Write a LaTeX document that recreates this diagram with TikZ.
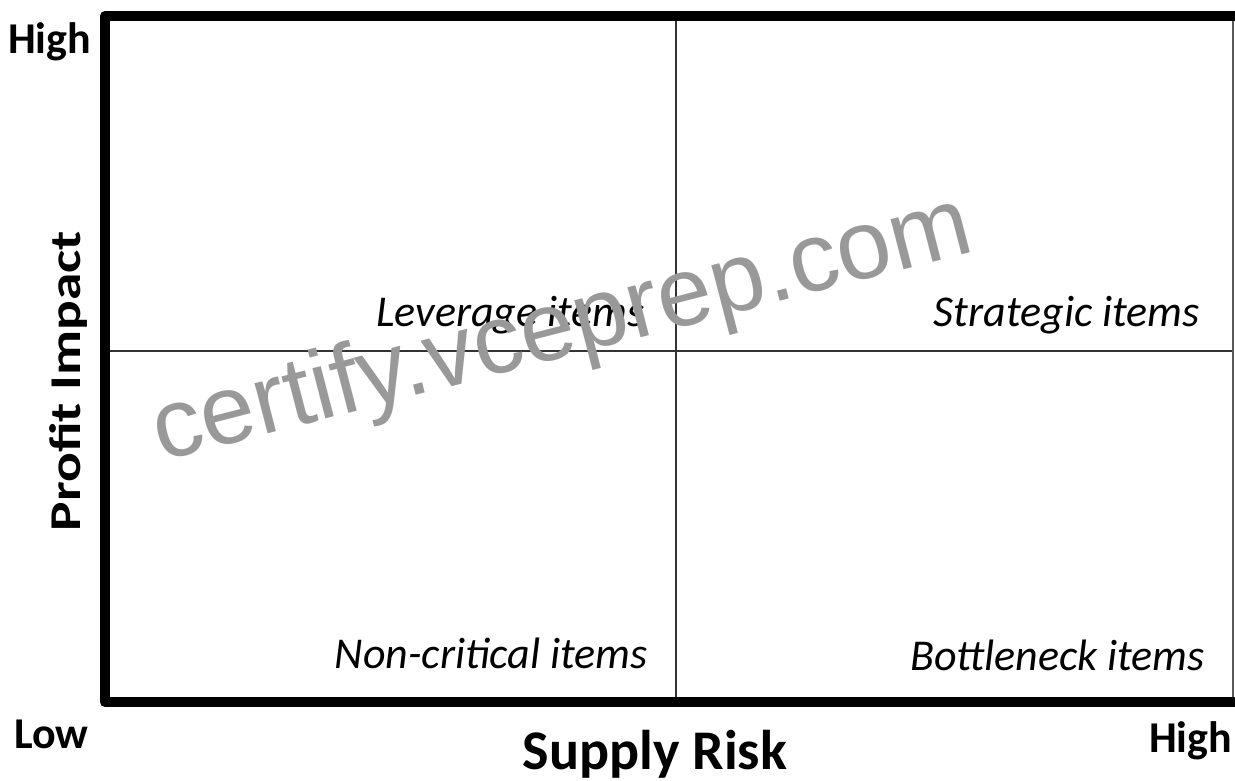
\documentclass[tikz,border=0pt]{standalone}
\usepackage{fontspec}
\setmainfont{Carlito}
\newfontfamily\markfont{Liberation Sans}
\begin{document}
\begin{tikzpicture}[x=1pt,y=-1pt,
  axisbar/.style={line width=10pt, line join=round, line cap=butt, draw=black},
  divider/.style={line width=1.6pt, draw=black!80},
  rightedge/.style={line width=1.4pt, draw=black!65},
  quad/.style={font=\fontsize{44}{50}\selectfont\itshape, anchor=base east, inner sep=0pt},
  endlabel/.style={font=\fontsize{44}{50}\selectfont\bfseries, anchor=base west, inner sep=0pt},
  axistitle/.style={font=\fontsize{56}{60}\selectfont\bfseries, inner sep=0pt, anchor=base},
  watermark/.style={font=\markfont\fontsize{98}{100}\selectfont, text=black!40, inner sep=0pt, anchor=base, rotate=14.5},
]
\useasboundingbox (0,0) rectangle (1235,780);

% frame corners
\coordinate (tr) at (1235,16);
\coordinate (tl) at (105,16);
\coordinate (bl) at (105,702);
\coordinate (br) at (1235,702);
\coordinate (rt) at (1233,16);
\coordinate (rb) at (1233,702);

% quadrant dividers
\coordinate (vtop) at (676,16);
\coordinate (vbot) at (676,702);
\coordinate (hleft) at (105,351);
\coordinate (hright) at (1233,351);

\draw[divider] (vtop) -- (vbot);
\draw[divider] (hleft) -- (hright);
\draw[rightedge] (rt) -- (rb);
\draw[axisbar] (tr) -- (tl) -- (bl) -- (br);

% quadrant names
\node[quad] (lev) at (645,326) {Leverage items};
\node[quad] (str) at (1200,326) {Strategic items};
\node[quad] (non) at (648,668) {Non-critical items};
\node[quad] (bot) at (1205,670) {Bottleneck items};

% axis ends
\node[endlabel] (yhigh) at (8,53) {High};
\node[endlabel] (xlow) at (14,748) {Low};
\node[endlabel] (xhigh) at (1149,752) {High};

% axis titles
\node[axistitle] (xtitle) at (655,769) {Supply Risk};
\node[inner sep=0pt, anchor=base, rotate=90] (ytitle) at (80,381)
  {\scalebox{1.26}[1]{\fontsize{44}{50}\selectfont\bfseries Profit Impact}};

% overlay text
\node[watermark] (wm) at (569,356) {certify.vceprep.com};
\end{tikzpicture}
\end{document}
